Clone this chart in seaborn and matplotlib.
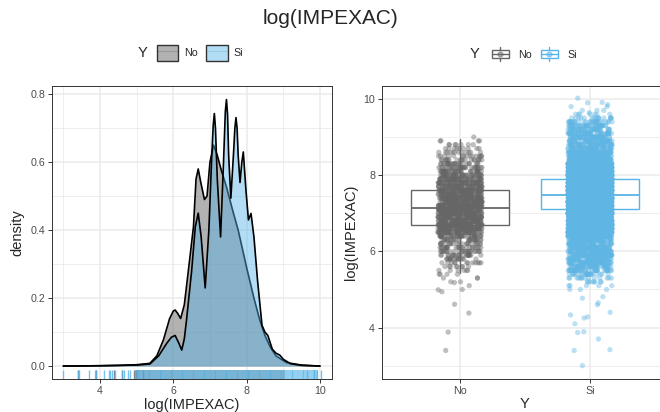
import numpy as np
import pandas as pd
import matplotlib
matplotlib.use("Agg")
import matplotlib.pyplot as plt
import seaborn as sns
from matplotlib.patches import Rectangle, Patch
from matplotlib.lines import Line2D
from matplotlib.legend_handler import HandlerBase, HandlerTuple

# ---------------- data ----------------
groups = ["No", "Si"]

# density curves
no_x = [3.0, 4.0, 4.5, 5.0, 5.36, 5.55, 5.73, 5.9, 6.0, 6.05, 6.12, 6.2, 6.3, 6.41,
        6.55, 6.62, 6.68, 6.75, 6.85, 6.92, 7.0, 7.1, 7.2, 7.3, 7.45, 7.64, 7.77,
        8.0, 8.2, 8.36, 8.5, 8.64, 8.8, 9.09, 9.5, 10.0]
no_y = [0.0, 0.001, 0.002, 0.004, 0.008, 0.03, 0.077, 0.14, 0.162, 0.165, 0.155,
        0.14, 0.18, 0.28, 0.41, 0.55, 0.58, 0.54, 0.49, 0.5, 0.6, 0.65, 0.62, 0.58,
        0.527, 0.45, 0.40, 0.29, 0.2, 0.135, 0.09, 0.057, 0.03, 0.01, 0.003, 0.0]

si_x = [3.0, 4.0, 4.5, 5.0, 5.36, 5.6, 5.82, 5.95, 6.05, 6.14, 6.23, 6.3, 6.36, 6.5,
        6.6, 6.68, 6.76, 6.87, 6.97, 7.05, 7.09, 7.12, 7.15, 7.2, 7.29, 7.37, 7.42,
        7.45, 7.48, 7.51, 7.57, 7.64, 7.68, 7.71, 7.74, 7.77, 7.82, 7.87, 7.91,
        7.98, 8.05, 8.12, 8.2, 8.3, 8.42, 8.5, 8.58, 8.7, 8.8, 8.91, 9.0, 9.2,
        9.5, 10.0]
si_y = [0.0, 0.001, 0.002, 0.003, 0.006, 0.03, 0.067, 0.085, 0.09, 0.07, 0.047,
        0.08, 0.135, 0.28, 0.41, 0.45, 0.38, 0.23, 0.40, 0.62, 0.71, 0.743, 0.70,
        0.55, 0.38, 0.6, 0.75, 0.784, 0.74, 0.62, 0.494, 0.62, 0.70, 0.731, 0.70,
        0.62, 0.54, 0.6, 0.63, 0.52, 0.43, 0.449, 0.38, 0.25, 0.12, 0.1, 0.09,
        0.05, 0.038, 0.032, 0.02, 0.007, 0.002, 0.0]

# jittered observations: value levels with counts, plus isolated values
no_levels = [5.0, 5.1, 5.2, 5.3, 5.4, 5.5, 5.6, 5.7, 5.8, 5.9, 6.0, 6.1, 6.2, 6.3,
             6.4, 6.5, 6.6, 6.7, 6.8, 6.9, 7.0, 7.1, 7.2, 7.3, 7.4, 7.5, 7.6, 7.7,
             7.8, 7.9, 8.0, 8.1, 8.2, 8.3, 8.4, 8.5, 8.6, 8.7, 8.8, 8.9, 9.0]
no_counts = [1, 1, 2, 3, 4, 6, 8, 12, 16, 21, 24, 23, 21, 27, 41, 55, 80, 86, 78,
             74, 92, 98, 93, 87, 81, 77, 69, 63, 57, 50, 44, 36, 30, 24, 19, 15,
             12, 9, 7, 4, 1]
no_isolated = [4.61, 4.38, 3.88, 3.40, 4.94, 4.99, 5.18]

si_levels = [5.0, 5.1, 5.2, 5.3, 5.4, 5.5, 5.6, 5.7, 5.8, 5.9, 6.0, 6.1, 6.2, 6.3,
             6.4, 6.5, 6.6, 6.7, 6.8, 6.9, 7.0, 7.1, 7.2, 7.3, 7.4, 7.5, 7.6, 7.7,
             7.8, 7.9, 8.0, 8.1, 8.2, 8.3, 8.4, 8.5, 8.6, 8.7, 8.8, 8.9, 9.0, 9.1,
             9.2, 9.3, 9.4, 9.5, 9.6, 9.7, 9.8, 9.9]
si_counts = [3, 5, 8, 14, 25, 40, 50, 60, 70, 80, 80, 70, 60, 80, 150, 250, 350,
             380, 280, 220, 420, 600, 450, 350, 600, 560, 480, 600, 470, 520, 400,
             380, 320, 210, 110, 90, 75, 60, 55, 55, 55, 50, 45, 40, 30, 16, 7, 3,
             2, 1]
si_isolated = [9.91, 9.85, 10.02, 9.64, 4.81, 4.77, 4.6, 4.65, 4.25, 4.4, 4.33,
               4.28, 4.1, 3.89, 3.87, 3.7, 3.40, 3.42, 3.0]

# boxplot summary
box_q1 = [6.70, 7.11]
box_med = [7.15, 7.48]
box_q3 = [7.61, 7.90]
box_lo = [5.44, 5.93]
box_hi = [8.94, 9.09]

# ---------------- styling ----------------
sns.set_style("white")
plt.rcParams["font.family"] = ["Liberation Sans", "DejaVu Sans"]

GRAY = "#666666"
BLUE = "#56B4E9"
pal = {"No": GRAY, "Si": BLUE}
pt_pal = {"No": GRAY, "Si": "#5fb5e3"}
TICKC = "#4d4d4d"
GRIDC = "#ebebeb"
BORDER = "#333333"

W, H = 660, 412
fig = plt.figure(figsize=(W / 100, H / 100), dpi=100)

def fx(px):
    return px / W

def fy(py):
    return 1 - py / H

axL = fig.add_axes([fx(52), fy(379), fx(332) - fx(52), fy(86) - fy(379)])
axR = fig.add_axes([fx(382), fy(379), fx(668) - fx(382), fy(86) - fy(379)])

# ---------------- observations table ----------------
rows_val, rows_grp, rows_kind = [], [], []
for g, lv, ct, iso in [("No", no_levels, no_counts, no_isolated),
                       ("Si", si_levels, si_counts, si_isolated)]:
    vals = list(np.repeat(lv, ct)) + list(iso)
    rows_val += vals
    rows_grp += [g] * len(vals)
    rows_kind += ["core"] * int(np.sum(ct)) + ["iso"] * len(iso)
obs = pd.DataFrame({"val": rows_val, "Y": rows_grp, "kind": rows_kind})

# ---------------- left: density + rug ----------------
z = 2.0
for g, xs, ys, alpha in [("No", no_x, no_y, 0.5), ("Si", si_x, si_y, 0.45)]:
    axL.fill_between(xs, 0, ys, color=pal[g], alpha=alpha, lw=0, zorder=z)
    sns.lineplot(x=xs, y=ys, ax=axL, color="black", linewidth=1.2, zorder=z + 0.1,
                 estimator=None, sort=False)
    z += 0.2

lv_df = pd.DataFrame({"val": no_levels + si_levels,
                      "Y": ["No"] * len(no_levels) + ["Si"] * len(si_levels)})
iso_df = obs[obs["kind"] == "iso"]
for g in groups:
    sns.rugplot(data=lv_df[lv_df["Y"] == g], x="val", ax=axL, height=0.032,
                color=pal[g], linewidth=2.8, alpha=0.65 if g == "Si" else 0.5,
                expand_margins=False, zorder=4)
    sns.rugplot(data=iso_df[iso_df["Y"] == g], x="val", ax=axL, height=0.032,
                color=pal[g], linewidth=1.0, alpha=0.8, expand_margins=False,
                zorder=4)

axL.set_xlim(2.69, 10.33)
axL.set_ylim(-0.038, 0.824)
axL.set_xticks([4, 6, 8, 10])
axL.set_xticks([3, 5, 7, 9], minor=True)
axL.set_yticks([0.0, 0.2, 0.4, 0.6, 0.8])
axL.set_yticks([0.1, 0.3, 0.5, 0.7], minor=True)
axL.set_yticklabels(["0.0", "0.2", "0.4", "0.6", "0.8"])
axL.set_xlabel("log(IMPEXAC)", fontsize=10.5, labelpad=1.5)
axL.set_ylabel("density", fontsize=10.5, labelpad=4)

# ---------------- right: box + jitter ----------------
for i, g in enumerate(groups):
    st = dict(med=box_med[i], q1=box_q1[i], q3=box_q3[i],
              whislo=box_lo[i], whishi=box_hi[i], fliers=[])
    axR.bxp([st], positions=[i], widths=0.75, showfliers=False,
            showcaps=False, patch_artist=True,
            boxprops=dict(facecolor="white", edgecolor=pal[g], lw=1.0),
            medianprops=dict(color=pal[g], lw=1.3),
            whiskerprops=dict(color=pal[g], lw=1.0), manage_ticks=False,
            zorder=2)

np.random.seed(3)
sns.stripplot(data=obs, x="Y", y="val", hue="Y", palette=pt_pal, order=groups,
              jitter=0.17, size=3.8, alpha=0.42, linewidth=0, legend=False,
              ax=axR, zorder=3)
axR.set_xlim(-0.6, 1.6)
axR.set_ylim(2.65, 10.34)
axR.set_yticks([4, 6, 8, 10])
axR.set_yticks([3, 5, 7, 9], minor=True)
axR.set_xticks([0, 1])
axR.set_xticklabels(groups)
axR.set_xlabel("Y", fontsize=10.5, labelpad=0.5)
axR.set_ylabel("log(IMPEXAC)", fontsize=10.5, labelpad=4)

for ax in (axL, axR):
    ax.set_axisbelow(True)
    ax.grid(True, which="major", color=GRIDC, lw=1.1)
    ax.grid(True, which="minor", color=GRIDC, lw=0.6)
    for s in ax.spines.values():
        s.set_visible(True)
        s.set_color(BORDER)
        s.set_linewidth(0.7)
    ax.tick_params(which="major", length=3, width=0.7, color=BORDER,
                   labelcolor=TICKC, labelsize=7.7, pad=2,
                   bottom=True, left=True)
    ax.tick_params(which="minor", length=0)
axR.grid(False, which="minor", axis="x")

# ---------------- title & legends ----------------
fig.text(0.5, fy(18), "log(IMPEXAC)", ha="center", va="center", fontsize=15)

hL = [(Patch(facecolor=GRAY, alpha=0.5, edgecolor="none"),
       Line2D([], [], color="#999999", lw=0.8),
       Patch(facecolor="none", edgecolor="#333333", lw=1.0)),
      (Patch(facecolor=BLUE, alpha=0.45, edgecolor="none"),
       Line2D([], [], color="#9ccbe6", lw=0.8),
       Patch(facecolor="none", edgecolor="#333333", lw=1.0))]
legL = fig.legend(hL, groups, loc="center", bbox_to_anchor=(fx(200), fy(53)),
                  ncol=2, frameon=False, fontsize=7.7, handlelength=2.0,
                  handleheight=1.9, handletextpad=0.55, columnspacing=0.8,
                  borderpad=0, handler_map={tuple: HandlerTuple(ndivide=1, pad=0)})
fig.text(fx(143), fy(53), "Y", ha="center", va="center", fontsize=10.5)


class BoxProxy:
    def __init__(self, color):
        self.color = color


class BoxKey(HandlerBase):
    def create_artists(self, legend, orig, xd, yd, w, h, fs, trans):
        c = orig.color
        x0, y0 = -xd, -yd
        cx = x0 + w / 2
        arts = [
            Line2D([cx, cx], [y0 - h * 0.1, y0 + h * 0.2], color=c, lw=1.0, transform=trans),
            Line2D([cx, cx], [y0 + h * 0.8, y0 + h * 1.1], color=c, lw=1.0, transform=trans),
            Rectangle((x0 + w * 0.05, y0 + h * 0.2), w * 0.9, h * 0.6, facecolor="white",
                      edgecolor=c, lw=1.0, transform=trans),
            Line2D([x0 + w * 0.05, x0 + w * 0.95], [y0 + h / 2] * 2, color=c, lw=1.0,
                   transform=trans),
            Line2D([cx], [y0 + h / 2], marker="o", ms=3.5, color=c, alpha=0.5, lw=0,
                   transform=trans),
        ]
        return arts


legR = fig.legend([BoxProxy(GRAY), BoxProxy(BLUE)], groups, loc="center",
                  bbox_to_anchor=(fx(534), fy(54)), ncol=2, frameon=False,
                  fontsize=7.7, handlelength=1.7, handleheight=1.4,
                  handletextpad=0.8, columnspacing=0.8, borderpad=0,
                  handler_map={BoxProxy: BoxKey()})
fig.text(fx(475), fy(54), "Y", ha="center", va="center", fontsize=10.5)

fig.savefig("out.png", dpi=100)
